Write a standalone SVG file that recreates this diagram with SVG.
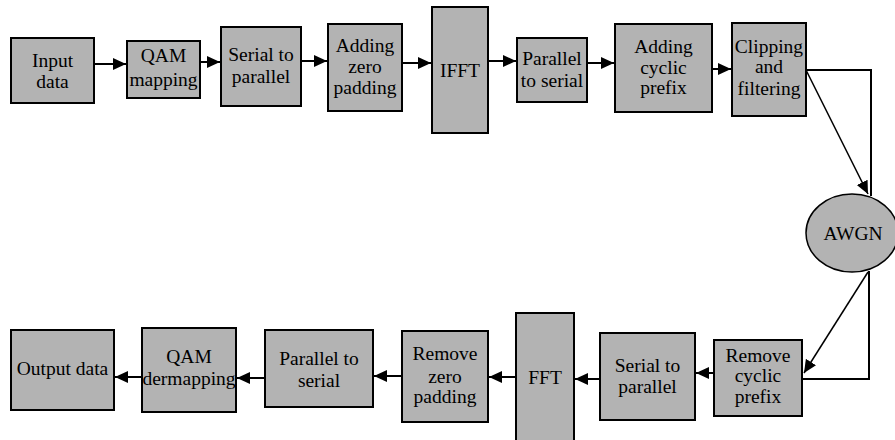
<svg xmlns="http://www.w3.org/2000/svg" width="895" height="440" viewBox="0 0 895 440">
<defs>
<style>
.box{fill:#b3b3b3;stroke:#000;stroke-width:2}
.ell{fill:#b3b3b3;stroke:#000;stroke-width:1.5}
.t{font-family:'Liberation Serif','Times New Roman',serif;font-size:19.5px;fill:#000;text-anchor:middle}
.c{fill:none;stroke:#000;stroke-width:2}
.d{fill:none;stroke:#000;stroke-width:1.5}
</style>
<marker id="ah" markerUnits="userSpaceOnUse" markerWidth="14" markerHeight="14" viewBox="0 0 14 14" refX="13" refY="7" orient="auto">
<path d="M0,1 L13,7 L0,13 Z" fill="#000"/>
</marker>
</defs>
<rect width="895" height="440" fill="#fff"/>
<g id="connectors">
<line class="c" x1="94" y1="64" x2="126" y2="64" marker-end="url(#ah)"/>
<line class="c" x1="200" y1="62" x2="220" y2="62" marker-end="url(#ah)"/>
<line class="c" x1="301" y1="61" x2="327" y2="61" marker-end="url(#ah)"/>
<line class="c" x1="402" y1="63" x2="431" y2="63" marker-end="url(#ah)"/>
<line class="c" x1="488" y1="61" x2="516" y2="61" marker-end="url(#ah)"/>
<line class="c" x1="587" y1="63" x2="614" y2="63" marker-end="url(#ah)"/>
<line class="c" x1="712" y1="69" x2="731" y2="69" marker-end="url(#ah)"/>
<polyline class="c" points="806,70 871,70 871,196"/>
<line class="d" x1="806" y1="70" x2="868" y2="194" marker-end="url(#ah)"/>
<polyline class="c" points="869,271 869,379 802,379"/>
<line class="d" x1="868" y1="272" x2="804" y2="373" marker-end="url(#ah)"/>
<line class="c" x1="714" y1="373" x2="696" y2="373" marker-end="url(#ah)"/>
<line class="c" x1="600" y1="379" x2="575" y2="379" marker-end="url(#ah)"/>
<line class="c" x1="516" y1="377" x2="489" y2="377" marker-end="url(#ah)"/>
<line class="c" x1="402" y1="376" x2="374" y2="376" marker-end="url(#ah)"/>
<line class="c" x1="265" y1="378" x2="237" y2="378" marker-end="url(#ah)"/>
<line class="c" x1="142" y1="377" x2="115" y2="377" marker-end="url(#ah)"/>
</g>
<g id="input-data"><rect class="box" x="11" y="38" width="83" height="65"/><text class="t" x="52.5" y="67">Input</text><text class="t" x="52.5" y="88">data</text></g>
<g id="qam-mapping"><rect class="box" x="127" y="41" width="73" height="57"/><text class="t" x="163.5" y="62">QAM</text><text class="t" x="163.5" y="86">mapping</text></g>
<g id="serial-to-parallel"><rect class="box" x="221" y="27" width="80" height="79"/><text class="t" x="261" y="61">Serial to</text><text class="t" x="261" y="83">parallel</text></g>
<g id="adding-zero-padding"><rect class="box" x="328" y="24" width="74" height="87"/><text class="t" x="365" y="52">Adding</text><text class="t" x="365" y="73">zero</text><text class="t" x="365" y="94">padding</text></g>
<g id="ifft"><rect class="box" x="432" y="7" width="56" height="126"/><text class="t" x="460" y="77">IFFT</text></g>
<g id="parallel-to-serial"><rect class="box" x="517" y="38" width="70" height="64"/><text class="t" x="552" y="65">Parallel</text><text class="t" x="552" y="87">to serial</text></g>
<g id="adding-cyclic-prefix"><rect class="box" x="615" y="24" width="97" height="88"/><text class="t" x="663.5" y="53">Adding</text><text class="t" x="663.5" y="74">cyclic</text><text class="t" x="663.5" y="94">prefix</text></g>
<g id="clipping-filtering"><rect class="box" x="732" y="23" width="74" height="93"/><text class="t" x="769" y="53">Clipping</text><text class="t" x="769" y="73">and</text><text class="t" x="769" y="95">filtering</text></g>
<g id="awgn"><ellipse class="ell" cx="852" cy="233" rx="46" ry="39"/><text class="t" x="853" y="240">AWGN</text></g>
<g id="remove-cyclic-prefix"><rect class="box" x="714" y="340" width="88" height="76"/><text class="t" x="758" y="362">Remove</text><text class="t" x="758" y="382">cyclic</text><text class="t" x="758" y="403">prefix</text></g>
<g id="serial-to-parallel-2"><rect class="box" x="600" y="333" width="95" height="87"/><text class="t" x="647.5" y="372">Serial to</text><text class="t" x="647.5" y="393">parallel</text></g>
<g id="fft"><rect class="box" x="516" y="313" width="58" height="135"/><text class="t" x="545" y="384">FFT</text></g>
<g id="remove-zero-padding"><rect class="box" x="402" y="331" width="86" height="91"/><text class="t" x="445" y="360">Remove</text><text class="t" x="445" y="383">zero</text><text class="t" x="445" y="403">padding</text></g>
<g id="parallel-to-serial-2"><rect class="box" x="265" y="330" width="108" height="77"/><text class="t" x="319" y="365">Parallel to</text><text class="t" x="319" y="387">serial</text></g>
<g id="qam-demapping"><rect class="box" x="142" y="328" width="94" height="84"/><text class="t" x="189" y="363">QAM</text><text class="t" x="189" y="385">dermapping</text></g>
<g id="output-data"><rect class="box" x="11" y="330" width="103" height="80"/><text class="t" x="62.5" y="375">Output data</text></g>
</svg>
